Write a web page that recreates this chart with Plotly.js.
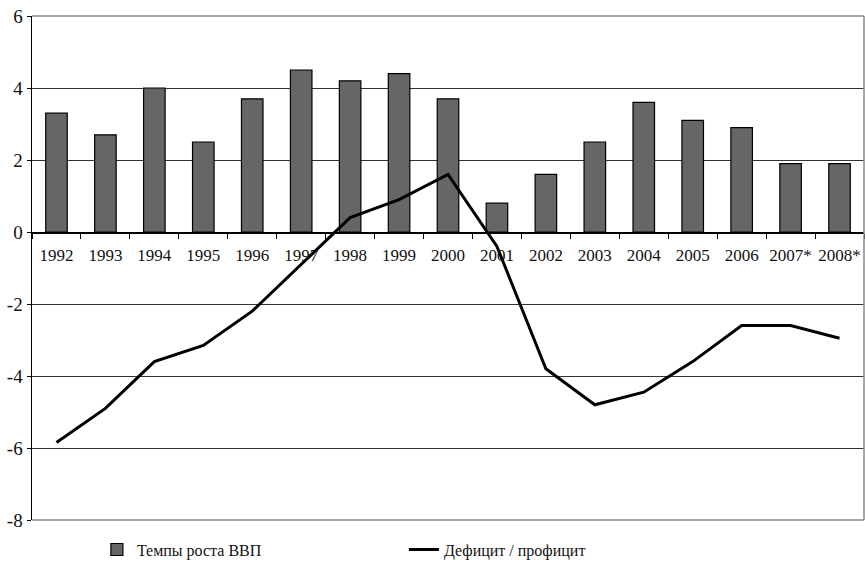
<!DOCTYPE html>
<html>
<head>
<meta charset="utf-8">
<script src="https://cdn.plot.ly/plotly-3.0.1.min.js"></script>
<style>html,body{margin:0;padding:0;background:#fff;}#chart{width:865px;height:577px;}</style>
</head>
<body>
<div id="chart"></div>
<script>
const years = ["1992","1993","1994","1995","1996","1997","1998","1999","2000","2001","2002","2003","2004","2005","2006","2007*","2008*"];
const gdpGrowth = [3.3, 2.7, 4.0, 2.5, 3.7, 4.5, 4.2, 4.4, 3.7, 0.8, 1.6, 2.5, 3.6, 3.1, 2.9, 1.9, 1.9];
const balance = [-5.85, -4.9, -3.6, -3.15, -2.2, -0.9, 0.4, 0.9, 1.6, -0.4, -3.8, -4.8, -4.45, -3.6, -2.6, -2.6, -2.95];
const yTicks = [-8, -6, -4, -2, 0, 2, 4, 6];
const seriesNames = ["Темпы роста ВВП", "Дефицит / профицит"];

const serifFamily = "Liberation Serif";

const traces = [
  {
    type: "bar", x: years, y: gdpGrowth, name: seriesNames[0],
    marker: {color: "#666666", line: {color: "#000", width: 1.2}},
    width: 0.44, legend: "legend", hoverinfo: "skip"
  },
  {
    type: "scatter", mode: "lines", x: years, y: balance, name: seriesNames[1],
    line: {color: "#000", width: 3}, legend: "legend2", hoverinfo: "skip"
  }
];

const layout = {
  width: 865, height: 577,
  margin: {l: 32, r: 1, t: 16, b: 57},
  paper_bgcolor: "#fff", plot_bgcolor: "#fff",
  font: {family: serifFamily, size: 17, color: "#111"},
  showlegend: true,
  xaxis: {
    type: "category", anchor: "free", position: 8/14,
    showline: true, linecolor: "#000", linewidth: 1.5,
    ticks: "outside", tickson: "boundaries", ticklen: 5, tickcolor: "#000", tickwidth: 1,
    showgrid: false, zeroline: false, tickangle: 0,
    tickfont: {family: serifFamily, size: 17, color: "#111"},
    ticklabelstandoff: 7,
    range: [-0.5, 16.5]
  },
  yaxis: {
    range: [-8, 6], tickvals: yTicks, ticktext: yTicks.map(String),
    showline: true, linecolor: "#000", linewidth: 1.5,
    ticks: "outside", ticklen: 4, tickcolor: "#000",
    showgrid: true, gridcolor: "#333", gridwidth: 1,
    zeroline: false,
    tickfont: {family: serifFamily, size: 19, color: "#111"},
    ticklabelstandoff: 0
  },
  legend: {
    orientation: "h", x: 0.078, xanchor: "left", y: -0.025, yanchor: "top",
    font: {family: serifFamily, size: 16, color: "#111"}, bgcolor: "rgba(0,0,0,0)"
  },
  legend2: {
    orientation: "h", x: 0.447, xanchor: "left", y: -0.025, yanchor: "top",
    font: {family: serifFamily, size: 16, color: "#111"}, bgcolor: "rgba(0,0,0,0)"
  },
  shapes: [
    {type: "line", xref: "paper", yref: "paper", x0: 1, x1: 1, y0: 0, y1: 1, line: {color: "#888", width: 1.5}},
    {type: "line", xref: "paper", yref: "paper", x0: 0, x1: 1, y0: 1, y1: 1, line: {color: "#888", width: 1.5}},
    {type: "line", xref: "paper", yref: "paper", x0: 0, x1: 1, y0: 0, y1: 0, line: {color: "#888", width: 1.5}}
  ]
};

Plotly.newPlot("chart", traces, layout, {displayModeBar: false, staticPlot: true});
</script>
</body>
</html>
